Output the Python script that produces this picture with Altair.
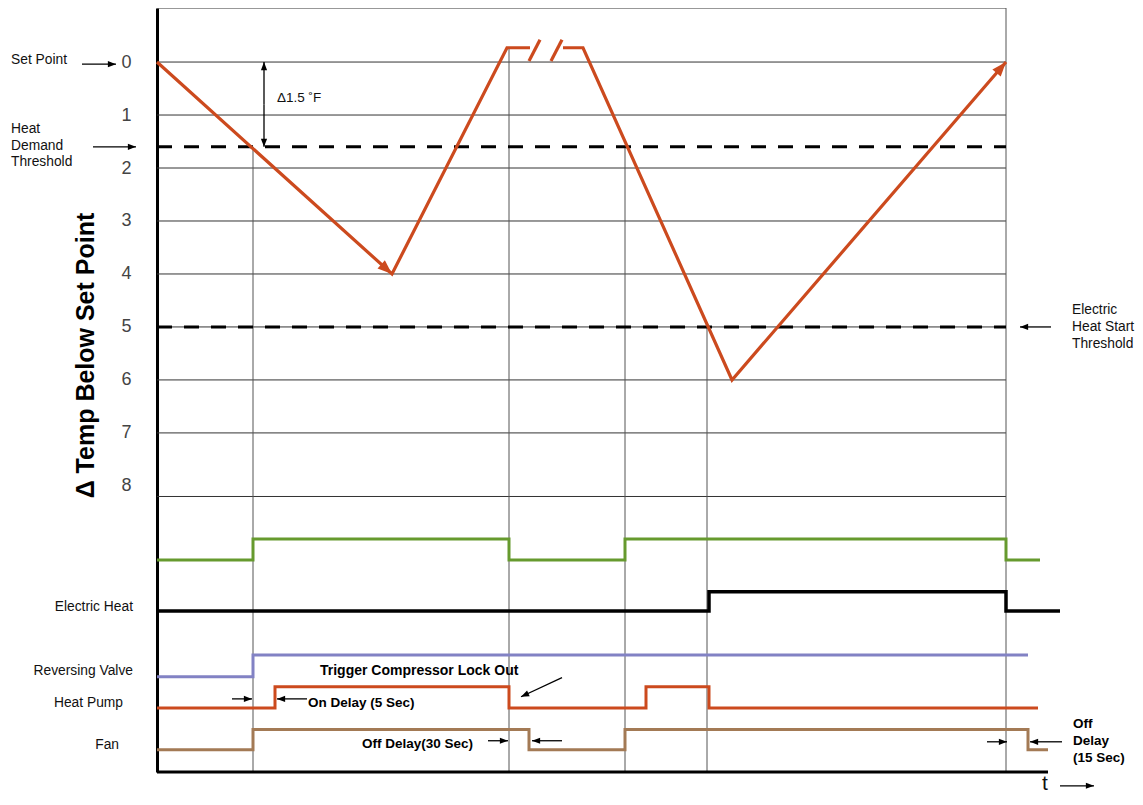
import altair as alt
import pandas as pd

FONT = "Liberation Sans"

# ---------------- data ----------------
T_MIN, T_MAX = 0, 978          # time axis (arbitrary units)
Y_TOP, Y_BOTTOM = -1.02, 13.4  # vertical extent in "degrees below set point" units
T_END = 849                    # end of the temperature grid

temp_ticks = [0, 1, 2, 3, 4, 5, 6, 7, 8]
grid_levels = [0, 1, 2, 3, 4, 5, 6, 7, 8.2]
threshold_levels = [1.6, 5.0]

# temperature trace, two segments around the time break
temp_a_t = [0, 235, 350, 373]
temp_a_v = [0, 4.0, -0.27, -0.27]
temp_b_t = [406, 426, 575, 849]
temp_b_v = [-0.27, -0.27, 6.0, 0]
break_t = [372, 394]
break_t2 = [383, 405]
break_v = [-0.02, -0.02]
break_v2 = [-0.42, -0.42]
temp_head_t = [235, 849]
temp_head_v = [4.0, 0]
temp_head_angle = [131.8, 40.7]

# vertical event lines
guide_t = [96, 352, 468, 550, 849]
guide_top = [1.6, -0.27, 1.6, 5.0, Y_TOP]

# digital signals
signal_names = ["Heat Demand", "Electric Heat", "Reversing Valve", "Heat Pump", "Fan"]
signal_times = [
    [0, 96, 352, 468, 849, 883],
    [0, 552, 849, 903],
    [0, 96, 871],
    [0, 118, 352, 489, 552, 881],
    [0, 96, 372, 468, 871, 891],
]
signal_states = [
    [0, 1, 0, 1, 0, 0],
    [0, 1, 0, 0],
    [0, 1, 1],
    [0, 1, 0, 1, 0, 0],
    [0, 1, 0, 1, 0, 0],
]
signal_low = [9.40, 10.36, 11.60, 12.19, 12.98]
signal_high = [9.00, 10.00, 11.19, 11.79, 12.60]
bottom_axis_end = 891

# text annotations
plain_text = ["Set Point", "Heat", "Demand", "Threshold", "Electric", "Heat  Start", "Threshold"]
plain_t = [-146, -146, -146, -146, 915, 915, 915]
plain_v = [-0.04, 1.26, 1.58, 1.89, 4.68, 5.0, 5.32]

sig_label_text = ["Electric Heat", "Reversing Valve", "Heat Pump", "Fan"]
sig_label_t = [-24, -24, -34, -38]
sig_label_v = [10.28, 11.49, 12.09, 12.89]

bold_text = ["On Delay (5 Sec)", "Off Delay(30 Sec)", "Off", "Delay", "(15 Sec)"]
bold_t = [151, 205, 916, 916, 916]
bold_v = [12.09, 12.87, 12.49, 12.81, 13.13]

trigger_text = ["Trigger Compressor Lock Out"]
trigger_t = [163]
trigger_v = [11.49]

delta_text = ["Δ1.5 ˚F"]
delta_t = [120]
delta_v = [0.68]

time_text = ["t"]
time_t = [885]
time_v = [13.62]

# arrows: tail (t, v) -> tip (t2, v2), head angle
arrow_t = [-75, -64, 107, 107, 894, 75, 150, 405, 331, 405, 830, 905, 903]
arrow_v = [0.04, 1.6, 0.8, 0.8, 5.0, 12.02, 12.02, 11.62, 12.81, 12.81, 12.83, 12.83, 13.66]
arrow_t2 = [-41, -21, 107, 107, 863, 95, 120, 364, 351, 375, 850, 873, 937]
arrow_v2 = [0.04, 1.6, 0.0, 1.6, 5.0, 12.02, 12.02, 11.98, 12.81, 12.81, 12.83, 12.83, 13.66]
arrow_angle = [90, 90, 0, 180, 270, 90, 270, 245, 90, 270, 90, 270, 90]

# ---------------- styles ----------------
TEMP_COLOR = "#cc4a1e"
signal_colors = ["#669a2e", "#000000", "#8282c4", "#cc4a1e", "#a37a55"]
signal_widths = [3, 3.5, 3, 3, 3]
HEAD = "M0,0L-0.4,1.05L0.4,1.05Z"

xscale = alt.Scale(domain=[T_MIN, T_MAX], nice=False, zero=False)
yscale = alt.Scale(domain=[Y_TOP, Y_BOTTOM], reverse=True, nice=False, zero=False)
yaxis = alt.Axis(
    values=temp_ticks, grid=False, ticks=False, labelPadding=26,
    labelFontSize=18, labelColor="#444", labelFont=FONT,
    domainColor="black", domainWidth=3,
    title="Δ Temp Below Set Point", titleFont=FONT, titleFontSize=25,
    titleFontWeight="bold", titleColor="black", titleAngle=270,
    titleX=-64, titleY=347, titleBaseline="alphabetic", titleAlign="center",
)


def X(f):
    return alt.X(f, type="quantitative", scale=xscale, axis=None)


def Y(f):
    return alt.Y(f, type="quantitative", scale=yscale, axis=yaxis)


layers = []

# grid
grid_df = pd.DataFrame({"v": grid_levels, "t": T_MIN, "t2": T_END})
layers.append(alt.Chart(grid_df).mark_rule(color="#333", strokeWidth=1).encode(
    x=X("t"), x2=alt.X2("t2"), y=Y("v")))

# top frame
top_df = pd.DataFrame({"v": [Y_TOP], "t": [T_MIN], "t2": [T_END]})
layers.append(alt.Chart(top_df).mark_rule(color="#333", strokeWidth=1.2).encode(
    x=X("t"), x2=alt.X2("t2"), y=Y("v")))

# vertical guides
guide_df = pd.DataFrame({"t": guide_t, "v": guide_top, "v2": Y_BOTTOM})
layers.append(alt.Chart(guide_df).mark_rule(color="#555", strokeWidth=1).encode(
    x=X("t"), y=Y("v"), y2=alt.Y2("v2")))

# dashed thresholds
thr_df = pd.DataFrame({"v": threshold_levels, "t": T_MIN, "t2": T_END})
layers.append(alt.Chart(thr_df).mark_rule(color="black", strokeWidth=3, strokeDash=[15, 12]).encode(
    x=X("t"), x2=alt.X2("t2"), y=Y("v")))

# bottom axis
bax_df = pd.DataFrame({"v": [Y_BOTTOM], "t": [T_MIN], "t2": [bottom_axis_end]})
layers.append(alt.Chart(bax_df).mark_rule(color="black", strokeWidth=3).encode(
    x=X("t"), x2=alt.X2("t2"), y=Y("v")))

# signals
for name, ts, ss, lo, hi, col, w in zip(signal_names, signal_times, signal_states,
                                        signal_low, signal_high, signal_colors, signal_widths):
    sdf = pd.DataFrame({"t": ts, "state": ss})
    sdf["level"] = lo + sdf["state"] * (hi - lo)
    sdf["signal"] = name
    layers.append(alt.Chart(sdf).mark_line(interpolate="step-after", color=col, strokeWidth=w).encode(
        x=X("t"), y=Y("level")))

# temperature trace
ta = pd.DataFrame({"t": temp_a_t, "v": temp_a_v, "seg": "a"})
tb = pd.DataFrame({"t": temp_b_t, "v": temp_b_v, "seg": "b"})
temp_df = pd.concat([ta, tb], ignore_index=True)
layers.append(alt.Chart(temp_df).mark_line(color=TEMP_COLOR, strokeWidth=3.2).encode(
    x=X("t"), y=Y("v"), detail="seg:N"))

brk_df = pd.DataFrame({"t": break_t, "t2": break_t2, "v": break_v, "v2": break_v2})
layers.append(alt.Chart(brk_df).mark_rule(color=TEMP_COLOR, strokeWidth=3.2).encode(
    x=X("t"), x2=alt.X2("t2"), y=Y("v"), y2=alt.Y2("v2")))

thead_df = pd.DataFrame({"t": temp_head_t, "v": temp_head_v, "angle": temp_head_angle})
layers.append(alt.Chart(thead_df).mark_point(shape=HEAD, filled=True, size=760, opacity=1,
                                              color=TEMP_COLOR, strokeWidth=0).encode(
    x=X("t"), y=Y("v"), angle=alt.Angle("angle:Q", scale=None)))

# arrows
arr_df = pd.DataFrame({"t": arrow_t, "v": arrow_v, "t2": arrow_t2, "v2": arrow_v2, "angle": arrow_angle})
layers.append(alt.Chart(arr_df).mark_rule(color="black", strokeWidth=1.3).encode(
    x=X("t"), x2=alt.X2("t2"), y=Y("v"), y2=alt.Y2("v2")))
layers.append(alt.Chart(arr_df).mark_point(shape=HEAD, filled=True, size=240, opacity=1,
                                            color="black", strokeWidth=0).encode(
    x=X("t2"), y=Y("v2"), angle=alt.Angle("angle:Q", scale=None)))


def text_layer(texts, ts, vs, size, weight="normal", align="left", color="black"):
    df = pd.DataFrame({"label": texts, "t": ts, "v": vs})
    return alt.Chart(df).mark_text(font=FONT, fontSize=size, fontWeight=weight, align=align,
                                   baseline="middle", color=color).encode(
        x=X("t"), y=Y("v"), text="label:N")


layers.append(text_layer(plain_text, plain_t, plain_v, 13.8, color="#111"))
layers.append(text_layer(sig_label_text, sig_label_t, sig_label_v, 13.8, align="right", color="#111"))
layers.append(text_layer(bold_text, bold_t, bold_v, 13.5, weight="bold"))
layers.append(text_layer(trigger_text, trigger_t, trigger_v, 14, weight="bold"))
layers.append(text_layer(delta_text, delta_t, delta_v, 13.5, color="#111"))
layers.append(text_layer(time_text, time_t, time_v, 21, color="#111"))

chart = alt.layer(*layers).properties(
    width=T_MAX - T_MIN,
    height=764,
    autosize=alt.AutoSizeParams(type="none"),
    padding={"left": 149, "top": 0, "right": 0, "bottom": 25},
).configure(font=FONT).configure_view(stroke=None)

chart.save("out.html", embed_options={"renderer": "svg", "actions": False})
